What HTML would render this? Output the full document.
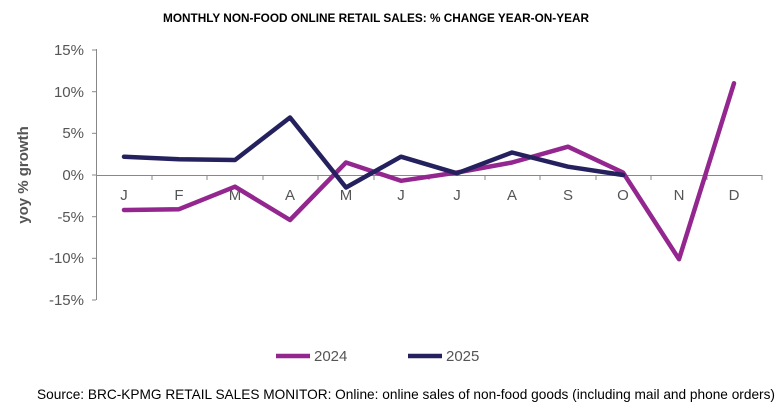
<!DOCTYPE html><html><head><style>body{margin:0;background:#fff}svg{display:block;font-family:"Liberation Sans",sans-serif}</style></head><body>
<svg width="783" height="406" viewBox="0 0 783 406">
<text x="163" y="22" textLength="426" lengthAdjust="spacingAndGlyphs" font-size="11.5" font-weight="bold" fill="#000">MONTHLY NON-FOOD ONLINE RETAIL SALES: % CHANGE YEAR-ON-YEAR</text>
<g stroke="#888" stroke-width="1" fill="none">
<line x1="96.5" y1="49" x2="96.5" y2="300"/>
<line x1="92" y1="50" x2="96" y2="50"/><line x1="92" y1="91.7" x2="96" y2="91.7"/><line x1="92" y1="133.3" x2="96" y2="133.3"/><line x1="92" y1="175" x2="96" y2="175"/><line x1="92" y1="216.7" x2="96" y2="216.7"/><line x1="92" y1="258.3" x2="96" y2="258.3"/><line x1="92" y1="300" x2="96" y2="300"/>
<line x1="96" y1="175.5" x2="762" y2="175.5"/>
</g>
<g font-size="15" fill="#555" text-anchor="end">
<text x="84" y="55">15%</text><text x="84" y="97">10%</text><text x="84" y="138">5%</text><text x="84" y="180">0%</text><text x="84" y="222">-5%</text><text x="84" y="263">-10%</text><text x="84" y="305">-15%</text>
</g>
<text transform="translate(28,175) rotate(-90)" text-anchor="middle" font-size="15" font-weight="bold" fill="#555">yoy % growth</text>
<g font-size="15" fill="#555" text-anchor="middle">
<text x="124" y="200">J</text><text x="179" y="200">F</text><text x="235" y="200">M</text><text x="290" y="200">A</text><text x="346" y="200">M</text><text x="401" y="200">J</text><text x="457" y="200">J</text><text x="512" y="200">A</text><text x="568" y="200">S</text><text x="623" y="200">O</text><text x="679" y="200">N</text><text x="734" y="200">D</text>
</g>
<g stroke="#888"><line x1="152" y1="175" x2="152" y2="180"/><line x1="207" y1="175" x2="207" y2="180"/><line x1="263" y1="175" x2="263" y2="180"/><line x1="318" y1="175" x2="318" y2="180"/><line x1="374" y1="175" x2="374" y2="180"/><line x1="429" y1="175" x2="429" y2="180"/><line x1="485" y1="175" x2="485" y2="180"/><line x1="540" y1="175" x2="540" y2="180"/><line x1="596" y1="175" x2="596" y2="180"/><line x1="651" y1="175" x2="651" y2="180"/><line x1="707" y1="175" x2="707" y2="180"/><line x1="762" y1="175" x2="762" y2="180"/></g>
<polyline fill="none" stroke="#93268F" stroke-width="4.5" stroke-linejoin="round" stroke-linecap="round" points="124,210 179,209.2 235,186.7 290,220 346,162.5 401,180.8 457,172.5 512,162.5 568,146.7 623,172.5 679,259.2 734,83.3"/>
<polyline fill="none" stroke="#24215E" stroke-width="4.5" stroke-linejoin="round" stroke-linecap="round" points="124,156.7 179,159.2 235,160 290,117.5 346,187.5 401,156.7 457,173.3 512,152.5 568,166.7 623,175"/>
<line x1="276" y1="356" x2="310" y2="356" stroke="#93268F" stroke-width="4.5"/>
<text x="314" y="361" font-size="15" fill="#555">2024</text>
<line x1="408" y1="356" x2="442" y2="356" stroke="#24215E" stroke-width="4.5"/>
<text x="446" y="361" font-size="15" fill="#555">2025</text>
<text x="37" y="399" textLength="738" lengthAdjust="spacingAndGlyphs" font-size="14" fill="#000">Source: BRC-KPMG RETAIL SALES MONITOR: Online: online sales of non-food goods (including mail and phone orders)</text>
</svg></body></html>
